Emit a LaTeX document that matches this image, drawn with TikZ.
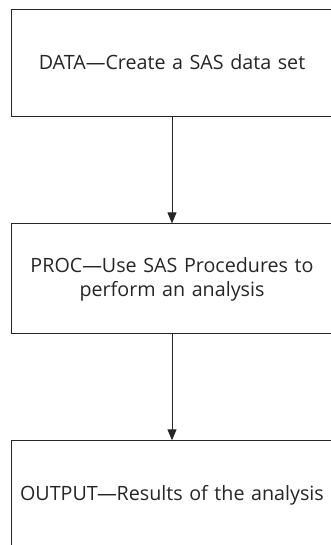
\documentclass[tikz,border=0pt]{standalone}
\usepackage{fontspec}
\setmainfont{Open Sans}
\usetikzlibrary{positioning,arrows.meta}
\tikzset{
  stage/.style={draw=black!85, line width=0.9pt, rectangle, minimum width=322pt,
    text width=310pt, align=center, text=black!85,
    font=\fontsize{19.7}{24}\selectfont},
  flow/.style={draw=black!85, line width=0.9pt, -{Triangle[length=11pt,width=9pt]}}
}
\begin{document}
\begin{tikzpicture}[x=1pt, y=-1pt, node distance=107pt]
      \useasboundingbox (0,0) rectangle (331,545);
      \clip (0,0) rectangle (331,545);
      \node[stage, minimum height=107pt] (data) at (172,62.5) {DATA---Create a SAS data set};
      \node[stage, minimum height=110pt, below=of data] (proc) {PROC---Use SAS Procedures to\\perform an analysis};
      \node[stage, minimum height=110pt, below=106pt of proc] (output) {OUTPUT---Results of the analysis};
      \draw[flow] (data) to (proc);
      \draw[flow] (proc) to (output);
     \end{tikzpicture}
\end{document}
